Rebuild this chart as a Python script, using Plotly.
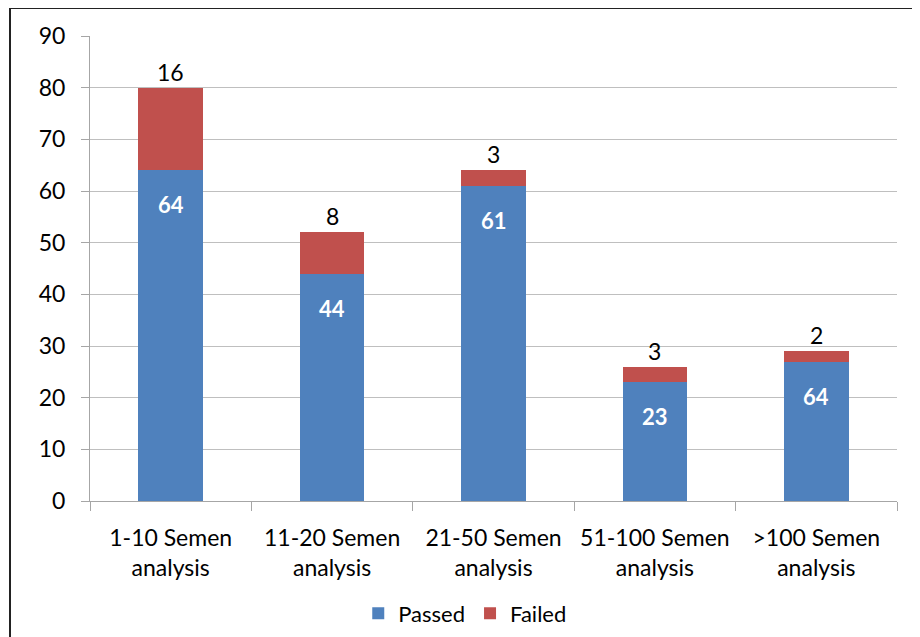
import plotly.graph_objects as go

categories = ["1-10 Semen<br>analysis", "11-20 Semen<br>analysis", "21-50 Semen<br>analysis",
              "51-100 Semen<br>analysis", ">100 Semen<br>analysis"]
passed = [64, 44, 61, 23, 27]
failed = [16, 8, 3, 3, 2]
passed_labels = ["64", "44", "61", "23", "64"]
failed_labels = ["16", "8", "3", "3", "2"]
y_ticks = [0, 10, 20, 30, 40, 50, 60, 70, 80, 90]

FONT = "Lato, 'Open Sans', sans-serif"
BLUE = "#4F81BD"
RED = "#C0504D"

fig = go.Figure()
fig.add_trace(go.Bar(x=categories, y=passed, name="Passed", marker_color=BLUE,
                     marker_line_width=0))
fig.add_trace(go.Bar(x=categories, y=failed, name="Failed", marker_color=RED,
                     marker_line_width=0))

annotations = []
for c, p, f, pl, fl in zip(categories, passed, failed, passed_labels, failed_labels):
    annotations.append(dict(x=c, y=p, text="<b>" + pl + "</b>", showarrow=False,
                            yanchor="top", yshift=-19,
                            font=dict(family=FONT, size=22, color="white")))
    annotations.append(dict(x=c, y=p + f, text=fl, showarrow=False,
                            yanchor="bottom", yshift=0,
                            font=dict(family=FONT, size=23, color="black")))

# page body has an 8px default margin; compensate
OFF = 8
W, H = 920 - OFF, 637 - OFF
L, T = 90 - OFF, 36 - OFF
R = W - (897 - OFF)
B = H - (501 - OFF)
pw, ph = W - L - R, H - T - B

fig.update_layout(
    width=W, height=H,
    margin=dict(l=L, r=R, t=T, b=B, pad=0, autoexpand=False),
    barmode="stack", bargap=0.6,
    plot_bgcolor="white", paper_bgcolor="white",
    font=dict(family=FONT, size=22, color="black"),
    showlegend=True,
    legend=dict(orientation="h", x=0.465, xanchor="center", y=-0.242, yanchor="middle",
                font=dict(family=FONT, size=22), traceorder="normal"),
    xaxis=dict(type="category", showline=True, linecolor="#A6A6A6", linewidth=1,
               ticks="outside", tickson="boundaries", ticklen=9, tickcolor="#A6A6A6",
               showgrid=False, tickfont=dict(family=FONT, size=23),
               ticklabelstandoff=16),
    yaxis=dict(range=[0, 90], tickvals=y_ticks, showline=True, linecolor="#A6A6A6",
               linewidth=1, ticks="outside", ticklen=8, tickcolor="#A6A6A6",
               showgrid=True, gridcolor="#BFBFBF", gridwidth=1, zeroline=False,
               tickfont=dict(family=FONT, size=23), ticklabelstandoff=11),
    annotations=annotations,
    shapes=[dict(type="rect", xref="paper", yref="paper",
                 x0=(10 - 90) / pw, x1=(914 - 90) / pw,
                 y0=-0.6, y1=1 + (36 - 8) / ph,
                 line=dict(color="#222222", width=2), layer="above")],
)

fig.write_html("out.html")
